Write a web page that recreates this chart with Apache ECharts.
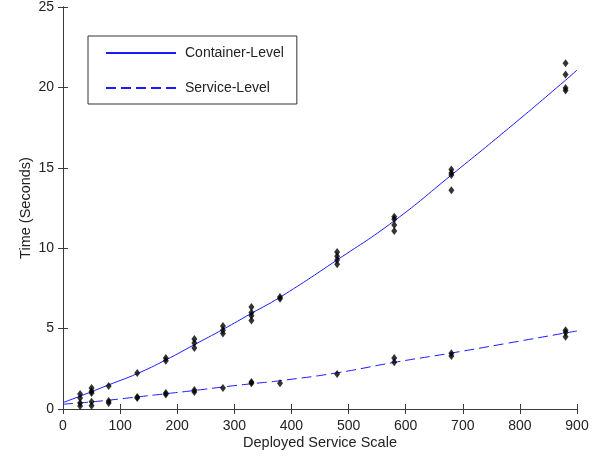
<!DOCTYPE html>
<html>
<head>
<meta charset="utf-8">
<script src="https://cdn.jsdelivr.net/npm/echarts@6/dist/echarts.min.js"></script>
<style>
  html, body { margin: 0; padding: 0; background: #fff; }
  #chart { width: 607px; height: 459px; }
</style>
</head>
<body>
<div id="chart"></div>
<script>
// Deployment scales measured
const scales = [30, 50, 80, 130, 180, 230, 280, 330, 380, 480, 580, 680, 880];

// Repeated timing runs per scale (seconds)
const containerRuns = [
  [0.93, 0.68],
  [1.3, 1.1, 1.0],
  [1.43],
  [2.24],
  [3.17, 3.0],
  [4.35, 4.1, 3.8],
  [5.16, 4.9, 4.7],
  [6.34, 6.0, 5.8, 5.5],
  [6.97, 6.85],
  [9.76, 9.5, 9.27, 9.0],
  [11.96, 11.8, 11.44, 11.07],
  [14.9, 14.68, 14.55, 13.6],
  [21.5, 20.8, 19.96, 19.8]
];
const serviceRuns = [
  [0.37, 0.19],
  [0.45, 0.2],
  [0.5, 0.37],
  [0.75, 0.68],
  [1.0, 0.9],
  [1.18, 1.06],
  [1.3],
  [1.68, 1.6],
  [1.6],
  [2.18],
  [3.17, 2.9],
  [3.47, 3.3],
  [4.9, 4.75, 4.5]
];

// Fitted trend curves
const fitX = [0, 30, 80, 130, 180, 230, 280, 330, 380, 480, 580, 680, 780, 880, 900];
const containerFit = [0.4, 0.8, 1.5, 2.2, 3.05, 4.0, 4.95, 5.95, 6.95, 9.27, 11.7, 14.55, 17.45, 20.45, 21.08];
const serviceFit = [0.3, 0.38, 0.55, 0.75, 0.95, 1.15, 1.37, 1.57, 1.76, 2.25, 2.9, 3.48, 4.1, 4.73, 4.85];

const xTicks = [0, 100, 200, 300, 400, 500, 600, 700, 800, 900];
const yTicks = [0, 5, 10, 15, 20, 25];

function runPoints(runs) {
  const pts = [];
  runs.forEach((vals, i) => vals.forEach(v => pts.push([scales[i], v])));
  return pts;
}
function pairs(xs, ys) { return xs.map((x, i) => [x, ys[i]]); }

const font = 'Liberation Sans, Arial, sans-serif';
const axisColor = '#3a3a3a';
const textColor = '#222';
const lineBlue = '#1a1aff';

const chart = echarts.init(document.getElementById('chart'), null, { renderer: 'canvas' });
chart.setOption({
  animation: false,
  backgroundColor: '#fff',
  grid: { left: 63, right: 30, top: 7, bottom: 50 },
  legend: {
    data: ['Container-Level', 'Service-Level'],
    orient: 'vertical',
    left: 88,
    top: 36,
    padding: [10, 13, 9, 17],
    itemGap: 21,
    itemWidth: 70,
    itemHeight: 14,
    borderColor: '#333',
    borderWidth: 1,
    backgroundColor: '#fff',
    itemStyle: { opacity: 0 },
    textStyle: { fontFamily: font, fontSize: 14, color: textColor, padding: [0, 0, 0, 4] }
  },
  xAxis: [{
    type: 'value', min: 0, max: 900, interval: 100,
    name: 'Deployed Service Scale', nameLocation: 'middle', nameGap: 26,
    nameMoveOverlap: false,
    nameTextStyle: { fontFamily: font, fontSize: 14.5, color: textColor },
    axisLine: { show: true, lineStyle: { color: axisColor, width: 1 } },
    axisTick: { show: true, inside: true, length: 5, lineStyle: { color: axisColor } },
    axisLabel: { fontFamily: font, fontSize: 14, color: textColor, margin: 10,
      formatter: v => xTicks.includes(v) ? String(v) : '' },
    splitLine: { show: false }
  }, {
    type: 'value', min: 0, max: 900, interval: 100, position: 'top',
    axisLine: { show: true, lineStyle: { color: axisColor, width: 1 } },
    axisTick: { show: true, inside: true, length: 5, lineStyle: { color: axisColor } },
    axisLabel: { show: false }, splitLine: { show: false }
  }],
  yAxis: [{
    type: 'value', min: 0, max: 25, interval: 5,
    name: 'Time (Seconds)', nameLocation: 'middle', nameGap: 30, nameRotate: 90,
    nameMoveOverlap: false,
    nameTextStyle: { fontFamily: font, fontSize: 14.5, color: textColor },
    axisLine: { show: true, lineStyle: { color: axisColor, width: 1 } },
    axisTick: { show: true, inside: true, length: 5, lineStyle: { color: axisColor } },
    axisLabel: { fontFamily: font, fontSize: 14, color: textColor, margin: 9,
      formatter: v => yTicks.includes(v) ? String(v) : '' },
    splitLine: { show: false }
  }, {
    type: 'value', min: 0, max: 25, interval: 5, position: 'right',
    axisLine: { show: true, lineStyle: { color: axisColor, width: 1 } },
    axisTick: { show: true, inside: true, length: 5, lineStyle: { color: axisColor } },
    axisLabel: { show: false }, splitLine: { show: false }
  }],
  series: [
    {
      name: 'Container-Level', type: 'line', smooth: true, symbol: 'none',
      data: pairs(fitX, containerFit),
      lineStyle: { color: lineBlue, width: 1 }, itemStyle: { color: lineBlue }, z: 2
    },
    {
      name: 'Service-Level', type: 'line', smooth: true, symbol: 'none',
      data: pairs(fitX, serviceFit),
      lineStyle: { color: lineBlue, width: 1, type: [10, 5] }, itemStyle: { color: lineBlue }, z: 2
    },
    {
      name: 'container-runs', type: 'scatter', symbol: 'diamond', symbolSize: [6, 8],
      data: runPoints(containerRuns), itemStyle: { color: '#000' }, z: 3
    },
    {
      name: 'service-runs', type: 'scatter', symbol: 'diamond', symbolSize: [6, 8],
      data: runPoints(serviceRuns), itemStyle: { color: '#000' }, z: 3
    }
  ]
});
</script>
</body>
</html>
